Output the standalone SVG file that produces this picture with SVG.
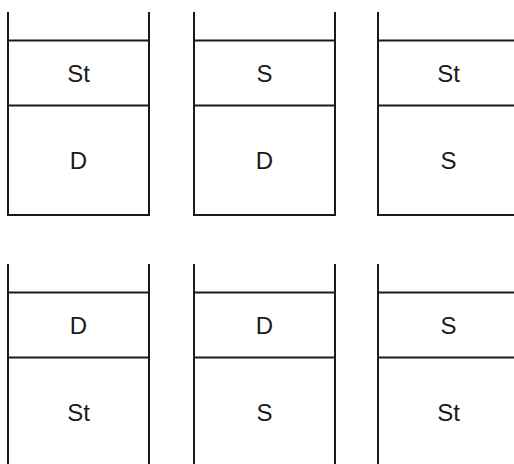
<svg xmlns="http://www.w3.org/2000/svg" width="514" height="464" viewBox="0 0 514 464">
<style>
.s{fill:none;stroke:#1a1a1a;stroke-width:2;stroke-linecap:butt}
.t{font-family:"Liberation Sans",Arial,sans-serif;font-size:24px;fill:#1a1a1a;text-anchor:middle}
</style>
<rect width="514" height="464" fill="#fff"/>
<defs>
<path id="stk" class="s" d="M0,0V203H141V0M0,28.5H141M0,93.5H141"/>
</defs>
<g id="stack1">
<use href="#stk" x="8" y="12"/>
<text class="t" x="78.5" y="81.5">St</text>
<text class="t" x="78.5" y="168.5">D</text>
</g>
<g id="stack2">
<use href="#stk" x="194" y="12"/>
<text class="t" x="264.5" y="81.5">S</text>
<text class="t" x="264.5" y="168.5">D</text>
</g>
<g id="stack3">
<use href="#stk" x="378" y="12"/>
<text class="t" x="448.5" y="81.5">St</text>
<text class="t" x="448.5" y="168.5">S</text>
</g>
<g id="stack4">
<use href="#stk" x="8" y="264"/>
<text class="t" x="78.5" y="333.5">D</text>
<text class="t" x="78.5" y="420.5">St</text>
</g>
<g id="stack5">
<use href="#stk" x="194" y="264"/>
<text class="t" x="264.5" y="333.5">D</text>
<text class="t" x="264.5" y="420.5">S</text>
</g>
<g id="stack6">
<use href="#stk" x="378" y="264"/>
<text class="t" x="448.5" y="333.5">S</text>
<text class="t" x="448.5" y="420.5">St</text>
</g>
<g id="connectors"/>
</svg>
